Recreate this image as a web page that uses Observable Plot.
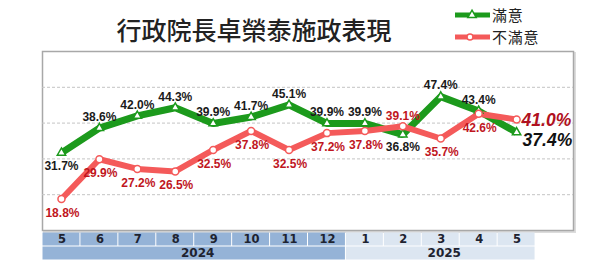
<!DOCTYPE html>
<html>
<head>
<meta charset="utf-8">
<script src="https://cdn.jsdelivr.net/npm/d3@7"></script>
<script src="https://cdn.jsdelivr.net/npm/@observablehq/plot@0.6"></script>
<style>
  html, body { margin: 0; padding: 0; background: #fff; }
  #wrap { position: relative; width: 601px; height: 266px; overflow: hidden; background: #fff; }
  #title { position: absolute; left: 0; width: 508px; top: 15px; text-align: center;
    font-family: "Noto Sans CJK TC", "Noto Sans", sans-serif; font-size: 25px; font-weight: 500;
    color: #222; white-space: nowrap; line-height: 28px; }
  #legend { position: absolute; left: 455px; top: 3.5px; font-family: "Noto Sans CJK TC", sans-serif;
    font-size: 15px; color: #222; }
  #legend .row { height: 22px; display: flex; align-items: center; }
  #legend span { line-height: 15px; display: block; letter-spacing: 0.8px; }
  #legend svg { display: block; margin-right: 1px; }
  #main svg, #table svg { display: block; }
  g[aria-label="year-text"] text { letter-spacing: 7px; }
  g[aria-label="month-text"] text { letter-spacing: 1px; }
</style>
</head>
<body>
<div id="wrap">
  <div id="main"></div>
  <div id="table"></div>
  <div id="title">行政院長卓榮泰施政表現</div>
  <div id="legend"></div>
</div>
<script>
// ---- data ----
const months = ["5","6","7","8","9","10","11","12","1","2","3","4","5"];
const monthYears = ["2024","2024","2024","2024","2024","2024","2024","2024","2025","2025","2025","2025","2025"];
const satisfied = [31.7, 38.6, 42.0, 44.3, 39.9, 41.7, 45.1, 39.9, 39.9, 36.8, 47.4, 43.4, 37.4];
const dissatisfied = [18.8, 29.9, 27.2, 26.5, 32.5, 37.8, 32.5, 37.2, 37.8, 39.1, 35.7, 42.6, 41.0];
const gridValues = [20, 30, 40, 50];
const seriesNames = ["滿意", "不滿意"];
const titleText = "行政院長卓榮泰施政表現";

// ---- styles ----
const GREEN = "#1c9a1c";
const RED = "#f45a5a";
const REDTEXT = "#c0161e";
const yearFill = {"2024": "#95b3d7", "2025": "#dce6f1"};

const rows = months.map((m, i) => ({i, m, year: monthYears[i], sat: satisfied[i], dis: dissatisfied[i]}));
const last = rows.length - 1;
const fmt = v => v.toFixed(1) + "%";

const greenBelow = new Set([0, 9]);
const redAbove = new Set([9]);

const xScale = {domain: [-0.5, 13.5], axis: null};
const common = {width: 601, marginLeft: 42, marginRight: 28};

const main = Plot.plot({
  ...common,
  height: 232, marginTop: 51, marginBottom: 2,
  x: xScale,
  y: {domain: [10, 60], axis: null},
  style: {fontFamily: "'Liberation Sans', Arial, sans-serif", background: "transparent", overflow: "visible"},
  marks: [
    Plot.frame({stroke: "#dcdcdc", strokeWidth: 2, dx: 1.5, dy: 1.5}),
    Plot.frame({stroke: "#a8a8a8", strokeWidth: 1.5, fill: "white"}),
    Plot.ruleY(gridValues, {stroke: "#c4c4c4", strokeWidth: 1, strokeDasharray: "3,2"}),
    Plot.line(rows, {x: "i", y: "sat", stroke: GREEN, strokeWidth: 7, strokeLinejoin: "miter", strokeLinecap: "butt"}),
    Plot.line(rows, {x: "i", y: "dis", stroke: RED, strokeWidth: 6, strokeLinejoin: "miter", strokeLinecap: "butt"}),
    Plot.dot(rows, {x: "i", y: "sat", symbol: "triangle", r: 3.1, fill: "white", stroke: GREEN, strokeWidth: 1.5}),
    Plot.dot(rows, {x: "i", y: "dis", symbol: "circle", r: 3.5, fill: "white", stroke: RED, strokeWidth: 1.5}),
    // green labels
    Plot.text(rows.filter(d => d.i !== last && !greenBelow.has(d.i)), {x: "i", y: "sat", text: d => fmt(d.sat), dy: -11, fill: "#1a1a1a", fontWeight: "bold", fontSize: 12}),
    Plot.text(rows.filter(d => d.i !== last && greenBelow.has(d.i)), {x: "i", y: "sat", text: d => fmt(d.sat), dy: 13, fill: "#1a1a1a", fontWeight: "bold", fontSize: 12}),
    Plot.text(rows.filter(d => d.i === last), {x: "i", y: "sat", text: d => fmt(d.sat), dx: 6, dy: 8, textAnchor: "start", fill: "#111", fontWeight: "bold", fontStyle: "italic", fontSize: 17.5}),
    // red labels
    Plot.text(rows.filter(d => d.i !== last && !redAbove.has(d.i)), {x: "i", y: "dis", text: d => fmt(d.dis), dx: 1, dy: 14, fill: REDTEXT, fontWeight: "bold", fontSize: 12}),
    Plot.text(rows.filter(d => d.i !== last && redAbove.has(d.i)), {x: "i", y: "dis", text: d => fmt(d.dis), dy: -10, fill: REDTEXT, fontWeight: "bold", fontSize: 12}),
    Plot.text(rows.filter(d => d.i === last), {x: "i", y: "dis", text: d => fmt(d.dis), dx: 5, dy: 1, textAnchor: "start", fill: "#b01020", fontWeight: "bold", fontStyle: "italic", fontSize: 17.5})
  ]
});
document.getElementById("main").appendChild(main);

// year groups derived from monthYears
const yearGroups = Array.from(d3.group(rows, d => d.year), ([year, ds]) => ({
  year, from: d3.min(ds, d => d.i), to: d3.max(ds, d => d.i)
}));

const table = Plot.plot({
  ...common,
  height: 34, marginTop: 0, marginBottom: 6,
  x: xScale,
  y: {domain: ["m", "y"], axis: null, padding: 0},
  style: {fontFamily: "'DejaVu Sans', Verdana, sans-serif", background: "transparent"},
  marks: [
    Plot.rect(rows, {x1: d => d.i - 0.5, x2: d => d.i + 0.5, y: () => "m", fill: d => yearFill[d.year], inset: 0.5}),
    Plot.rect(yearGroups, {x1: d => d.from - 0.5, x2: d => d.to + 0.5, y: () => "y", fill: d => yearFill[d.year], inset: 0.5}),
    Plot.text(rows, {x: "i", y: () => "m", text: "m", fill: "#1e2330", fontWeight: "bold", fontSize: 11.5, dx: 0.5, ariaLabel: "month-text"}),
    Plot.text(yearGroups, {x: d => (d.from + d.to) / 2, y: () => "y", text: "year", fill: "#1e2330", fontWeight: "bold", fontSize: 12, dx: 3.5, ariaLabel: "year-text"})
  ]
});
document.getElementById("table").appendChild(table);

// legend
const legend = document.getElementById("legend");
const colors = [GREEN, RED];
seriesNames.forEach((name, k) => {
  const row = document.createElement("div");
  row.className = "row";
  const ns = "http://www.w3.org/2000/svg";
  const svg = document.createElementNS(ns, "svg");
  svg.setAttribute("width", 36); svg.setAttribute("height", 22);
  const line = document.createElementNS(ns, "line");
  line.setAttribute("x1", 0); line.setAttribute("x2", 35); line.setAttribute("y1", 11); line.setAttribute("y2", 11);
  line.setAttribute("stroke", colors[k]); line.setAttribute("stroke-width", 5);
  svg.appendChild(line);
  const sym = d3.symbol(k === 0 ? d3.symbolTriangle : d3.symbolCircle, k === 0 ? 30 : 28)();
  const p = document.createElementNS(ns, "path");
  p.setAttribute("d", sym);
  p.setAttribute("transform", `translate(${k === 0 ? 17 : 15},11)`);
  p.setAttribute("fill", "white"); p.setAttribute("stroke", colors[k]); p.setAttribute("stroke-width", 1.5);
  svg.appendChild(p);
  row.appendChild(svg);
  const span = document.createElement("span");
  span.textContent = name;
  row.appendChild(span);
  legend.appendChild(row);
});
</script>
</body>
</html>
